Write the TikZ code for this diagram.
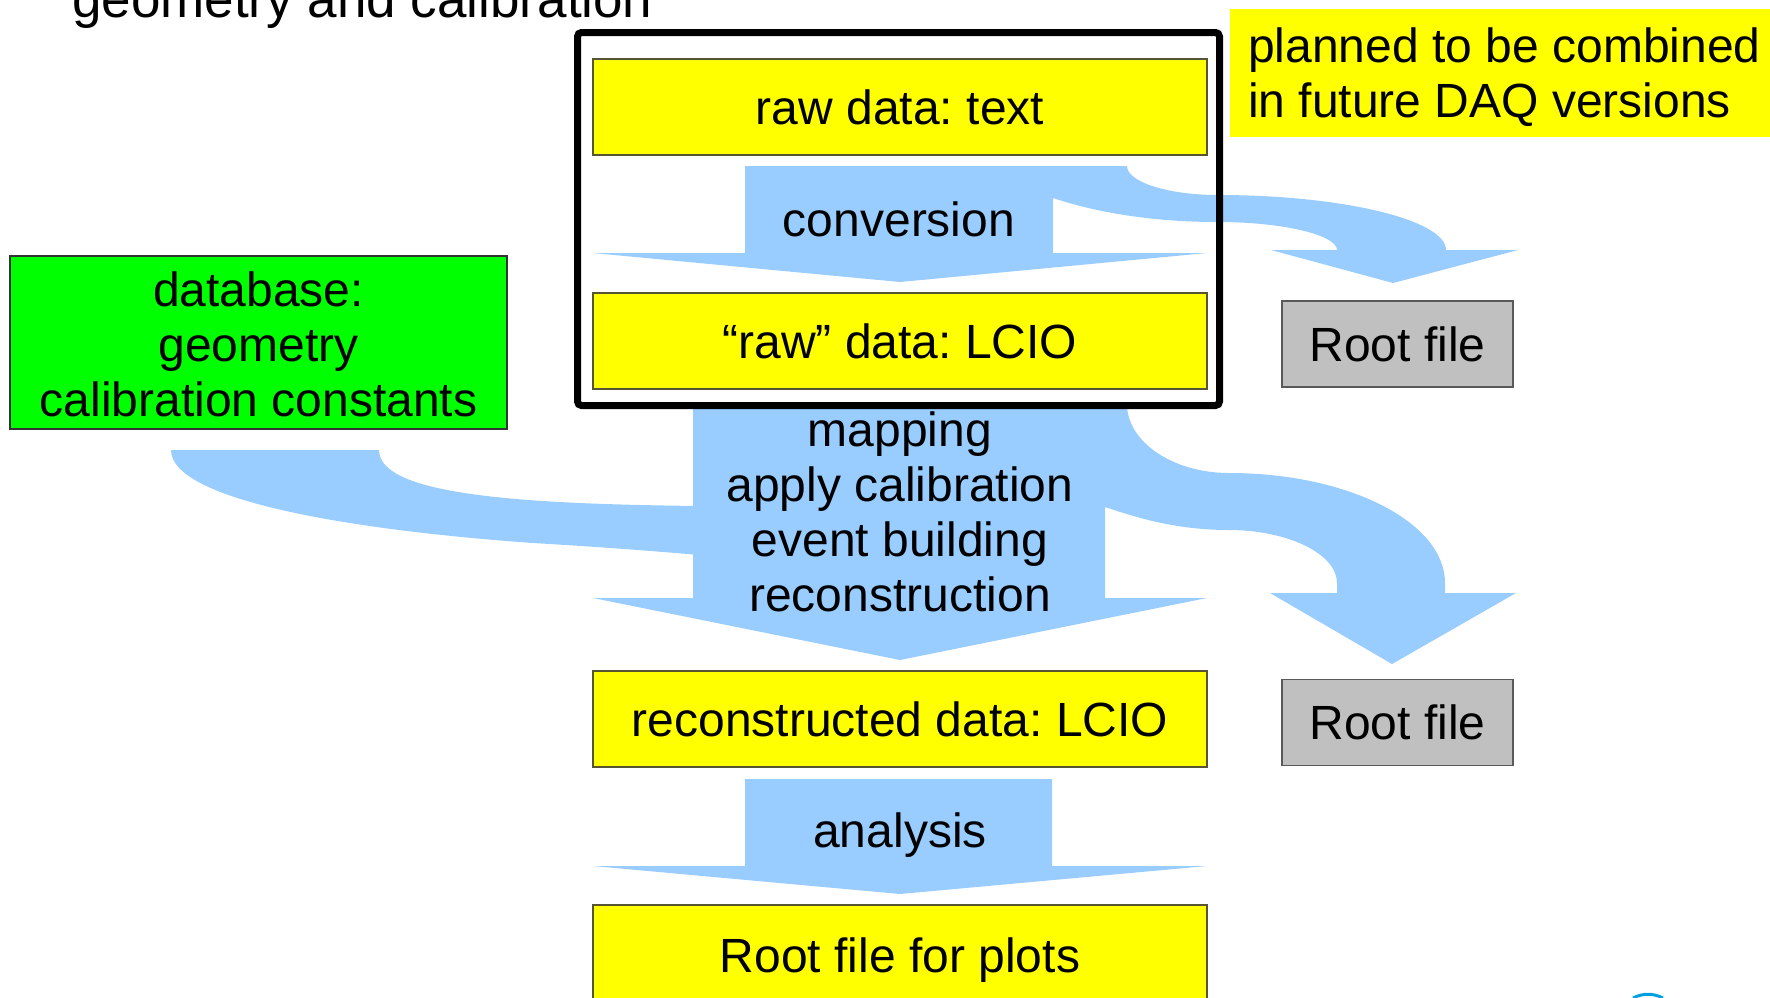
\documentclass[tikz,border=0pt]{standalone}
\usepackage{fontspec}
\setmainfont{Liberation Sans}
\frenchspacing
\definecolor{flow}{HTML}{99CCFF}
\definecolor{boxline}{HTML}{555533}
\definecolor{grayfill}{HTML}{C0C0C0}
\definecolor{logoblue}{HTML}{00A0E3}
\definecolor{yel}{RGB}{255,255,0}
\definecolor{grn}{RGB}{0,255,0}
\begin{document}
\begin{tikzpicture}[x=1pt,y=-1pt,
  txt/.style={font=\fontsize{48}{55}\selectfont, inner sep=0pt, align=center},
  ybox/.style={draw=boxline, line width=1.3pt, fill=yel, minimum width=614pt, minimum height=96pt, inner sep=0pt, font=\fontsize{48}{55}\selectfont},
  gbox/.style={draw=black!65, line width=1.3pt, fill=grayfill, minimum width=231pt, minimum height=86pt, inner sep=0pt, font=\fontsize{48}{55}\selectfont},
  flowfill/.style={fill=flow, draw=none}]
\useasboundingbox (0,0) rectangle (1770,997);

% title (cut at top)
\node[anchor=base west, inner sep=0pt, font=\fontsize{53}{60}\selectfont] (title) at (72,17) {geometry and calibration};

% conversion arrow with branch to first Root file
\path[flowfill] (745,166) -- (1127,166)
  .. controls (1127,182) and (1168,195) .. (1218,195)
  .. controls (1343,195) and (1446,220) .. (1446,250)
  -- (1518,250) -- (1393,283) -- (1271,250) -- (1337,250)
  .. controls (1337,235) and (1283,222) .. (1218,222)
  .. controls (1150,222) and (1095,212) .. (1053,198)
  -- (1053,253) -- (1207,253) -- (900,282) -- (593,253) -- (745,253) -- cycle;

% mapping arrow with branch to second Root file
\path[flowfill] (693,404) -- (1127,404)
  .. controls (1127,442) and (1173,473) .. (1229,473)
  .. controls (1348,473) and (1445,522) .. (1445,583)
  -- (1445,593) -- (1516,593) -- (1392,664) -- (1270,593) -- (1337,593) -- (1337,583)
  .. controls (1337,554) and (1288,530) .. (1229,530)
  .. controls (1175,530) and (1135,517) .. (1105,507)
  -- (1105,598) -- (1207,598) -- (900,660) -- (593,598) -- (693,598) -- cycle;

% database band
\path[flowfill] (171,450) -- (379,450)
  .. controls (379,495) and (520,504) .. (700,506)
  -- (700,555)
  .. controls (640,550) and (600,547) .. (533,543)
  .. controls (350,530) and (171,500) .. (171,450) -- cycle;

% analysis arrow
\path[flowfill] (745,779) -- (1052,779) -- (1052,866) -- (1207,866) -- (900,894) -- (593,866) -- (745,866) -- cycle;

% boxes
\node[ybox] (rawtext) at (900,107) {raw data: text};
\node[ybox] (rawlcio) at (900,341) {“raw” data: LCIO};
\node[ybox] (reco) at (900,719) {reconstructed data: LCIO};
\node[ybox, minimum height=110pt] (plots) at (900,960) {Root file for plots};

\node[draw=black!80, line width=1.3pt, fill=grn, minimum width=497pt, minimum height=173pt, inner sep=0pt] (dbbox) at (258.5,342.5) {};
\node[txt] (db) at (258.5,344) {database:\\geometry\\calibration constants};

\node[gbox] (root1) at (1397.5,344) {Root file};
\node[gbox] (root2) at (1397.5,722.5) {Root file};

% frame
\node[draw=black, line width=7pt, rounded corners=4pt, minimum width=642pt, minimum height=373pt, inner sep=0pt] (frame) at (898.5,219) {};

% note
\node[fill=yel, minimum width=540pt, minimum height=128pt, inner sep=0pt] (notebg) at (1500,73) {};
\node[txt, align=left, anchor=west] (note) at (1248,77) {planned to be combined\\in future DAQ versions};

% arrow labels
\node[txt] (conv) at (899,219) {conversion};
\node[txt] (map) at (900,512) {mapping\\apply calibration\\event building\\reconstruction};
\node[txt] (ana) at (900,835) {analysis};

% logo fragment
\draw[logoblue, line width=3pt] (1633,998) .. controls (1643,993) and (1653,993) .. (1663,998);
\end{tikzpicture}
\end{document}
